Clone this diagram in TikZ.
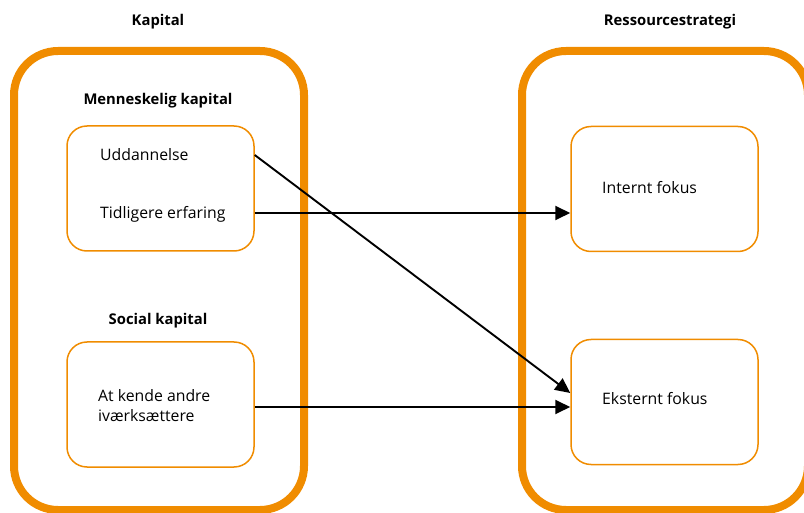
\documentclass[tikz,border=0pt]{standalone}
\usepackage{fontspec}
\setmainfont{Open Sans}
\usetikzlibrary{arrows.meta}
\definecolor{frameorange}{RGB}{240,140,0}
\begin{document}
\begin{tikzpicture}[x=1pt,y=-1pt,
  outerframe/.style={draw=frameorange,line width=8pt,rounded corners=44pt},
  innerbox/.style={draw=frameorange,line width=1.5pt,rounded corners=20pt},
  heading/.style={font=\fontsize{14.8}{17}\selectfont\bfseries,inner sep=0pt},
  itemtext/.style={font=\fontsize{15.8}{20}\selectfont,inner sep=0pt,anchor=west,align=left},
  link/.style={line width=1.9pt,-{Triangle[length=15pt,width=14pt]}}]
\useasboundingbox (0,0) rectangle (804,513);
\clip (0,0) rectangle (804,513);

% outer groups
\draw[outerframe] (14,51) rectangle (304,510);
\draw[outerframe] (522,51) rectangle (808,510);

% inner boxes
\node[innerbox,minimum width=187pt,minimum height=125pt] (hum) at (160.5,188.5) {};
\node[innerbox,minimum width=187pt,minimum height=125pt] (soc) at (160.5,404.5) {};
\node[innerbox,minimum width=187pt,minimum height=125pt] (int) at (664.5,189) {};
\node[innerbox,minimum width=187pt,minimum height=125pt] (ext) at (664.5,402) {};

% headings
\node[heading] (hkap) at (158,21.5) {Kapital};
\node[heading] (hres) at (670,21.5) {Ressourcestrategi};
\node[heading] (hmen) at (158,100.5) {Menneskelig kapital};
\node[heading] (hsoc) at (158,320.5) {Social kapital};

% item texts
\node[itemtext] (udd) at (100,154.5) {Uddannelse};
\node[itemtext] (tid) at (100,214.5) {Tidligere erfaring};
\node[itemtext] (akv) at (98,405.5) {At kende andre\\iværksættere};
\node[itemtext] (itf) at (602,187.5) {Internt fokus};
\node[itemtext] (etf) at (602,398.5) {Eksternt fokus};

% connectors
\coordinate (uddout) at (hum.east |- 0,155);
\coordinate (tidout) at (hum.east |- 0,213);
\coordinate (akvout) at (soc.east |- 0,407);
\draw[link] (uddout) -- (ext.west |- 0,393);
\draw[link] (tidout) -- (int.west |- tidout);
\draw[link] (akvout) -- (ext.west |- akvout);
\end{tikzpicture}
\end{document}
